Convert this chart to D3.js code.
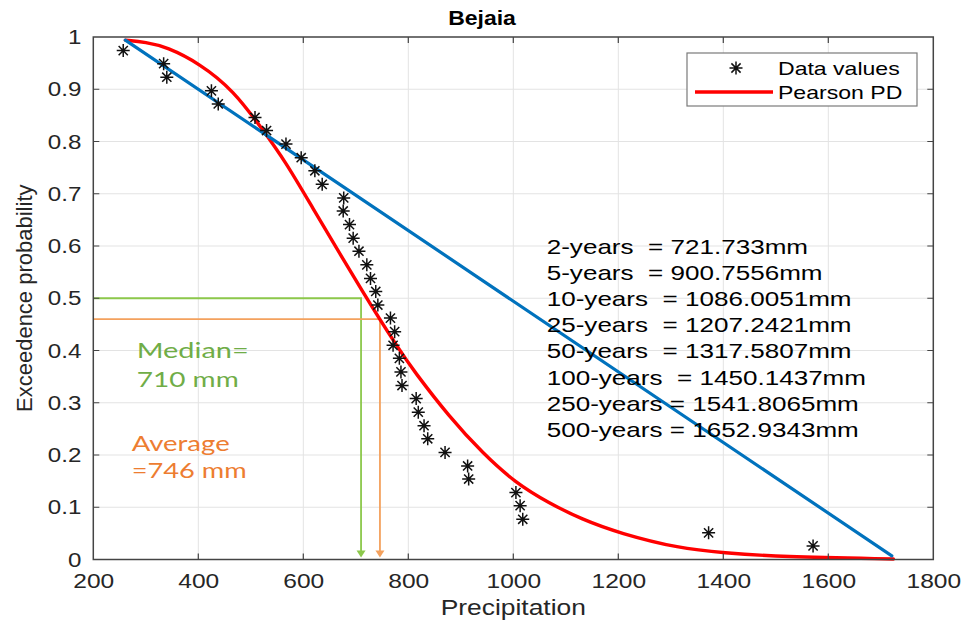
<!DOCTYPE html>
<html>
<head>
<meta charset="utf-8">
<script src="https://cdn.jsdelivr.net/npm/d3@7"></script>
<style>
  html, body { margin: 0; padding: 0; background: #fff; }
  svg { display: block; }
  text { white-space: pre; }
</style>
</head>
<body>
<div id="chart"></div>
<script>
// Annual precipitation at Bejaia: observed exceedance probabilities,
// fitted Pearson distribution and a straight-line fit.
const precip = [257, 334, 340, 425, 438, 508, 530, 567, 596, 622, 636, 677, 676,
  688, 695, 706, 721, 728, 738, 742, 766, 774, 771, 783, 786, 788, 815, 819,
  830, 837, 870, 913, 915, 1005, 1013, 1018, 1372, 1571];
const exceed = [0.974, 0.949, 0.923, 0.897, 0.872, 0.846, 0.821, 0.795, 0.769,
  0.744, 0.718, 0.692, 0.667, 0.641, 0.615, 0.590, 0.564, 0.538, 0.513, 0.487,
  0.462, 0.436, 0.410, 0.385, 0.359, 0.333, 0.308, 0.282, 0.256, 0.231, 0.205,
  0.179, 0.154, 0.128, 0.103, 0.077, 0.051, 0.026];

const pearsonX = [261, 300, 340, 403, 467, 524, 568, 606, 720, 783, 809, 878, 942,
  1005, 1068, 1130, 1203, 1317, 1400, 1508, 1724];
const pearsonP = [0.994, 0.990, 0.981, 0.949, 0.898, 0.821, 0.758, 0.693, 0.500, 0.401,
  0.363, 0.273, 0.203, 0.146, 0.108, 0.077, 0.050, 0.021, 0.013, 0.005, 0.001];

const fitX = [261, 1721];
const fitP = [0.994, 0.007];

const medianValue = 710, medianProb = 0.5;
const averageValue = 746, averageProb = 0.46;

const xTicks = [200, 400, 600, 800, 1000, 1200, 1400, 1600, 1800];
const yTicks = [0, 0.1, 0.2, 0.3, 0.4, 0.5, 0.6, 0.7, 0.8, 0.9, 1];
const yTickLabels = ["0", "0.1", "0.2", "0.3", "0.4", "0.5", "0.6", "0.7", "0.8", "0.9", "1"];

const returnLines = [
  "2-years  = 721.733mm",
  "5-years  = 900.7556mm",
  "10-years  = 1086.0051mm",
  "25-years  = 1207.2421mm",
  "50-years  = 1317.5807mm",
  "100-years  = 1450.1437mm",
  "250-years = 1541.8065mm",
  "500-years = 1652.9343mm"
];
const medianLines = ["Median=", "710 mm"];
const averageLines = ["Average", "=746 mm"];
const legendLabels = ["Data values", "Pearson PD"];

// ---------------------------------------------------------------------------
const W = 967, H = 628;
const plotL = 93.3, plotR = 933.3, plotT = 37, plotB = 559.5;
const sans = "'Liberation Sans', Arial, Helvetica, sans-serif";
const axisInk = "#262626";

const svg = d3.select("#chart").append("svg")
  .attr("width", W).attr("height", H)
  .attr("viewBox", `0 0 ${W} ${H}`);

const x = d3.scaleLinear().domain([200, 1800]).range([plotL, plotR]);
const y = d3.scaleLinear().domain([0, 1]).range([plotB, plotT]);

// horizontally widened text, scaled about its anchor point
function widen(sel, sx) {
  sel.each(function () {
    const t = d3.select(this);
    const tx = +t.attr("x") || 0, ty = +t.attr("y") || 0;
    t.attr("x", 0).attr("y", 0)
      .attr("transform", `translate(${tx},${ty}) scale(${sx},1)`);
  });
}

// grid
const grid = svg.append("g").attr("stroke", "#e3e3e3").attr("stroke-width", 1);
grid.selectAll("line.gx").data(xTicks.slice(1, -1)).join("line")
  .attr("x1", d => x(d)).attr("x2", d => x(d))
  .attr("y1", plotT).attr("y2", plotB);
grid.selectAll("line.gy").data(yTicks.slice(1, -1)).join("line")
  .attr("x1", plotL).attr("x2", plotR)
  .attr("y1", d => y(d)).attr("y2", d => y(d));

// median / average guide lines with arrows
function guide(value, prob, color) {
  const g = svg.append("g");
  g.append("path")
    .attr("d", `M${plotL},${y(prob)}H${x(value)}V${plotB - 7}`)
    .attr("fill", "none").attr("stroke", color).attr("stroke-width", 1.8);
  g.append("path")
    .attr("d", `M${x(value) - 4.5},${plotB - 9}L${x(value) + 4.5},${plotB - 9}L${x(value)},${plotB - 2}Z`)
    .attr("fill", color);
}
guide(medianValue, medianProb, "#8cc84b");
guide(averageValue, averageProb, "#f4a15d");

// curves
const pearson = pearsonX.map((v, i) => [v, pearsonP[i]]);
const fit = fitX.map((v, i) => [v, fitP[i]]);

svg.append("path").datum(pearson)
  .attr("d", d3.line().x(d => x(d[0])).y(d => y(d[1])).curve(d3.curveBasis))
  .attr("fill", "none").attr("stroke", "#ff0000").attr("stroke-width", 3.4)
  .attr("stroke-linecap", "round");
svg.append("path").datum(fit)
  .attr("d", d3.line().x(d => x(d[0])).y(d => y(d[1])))
  .attr("fill", "none").attr("stroke", "#0072bd").attr("stroke-width", 3.2)
  .attr("stroke-linecap", "round");

// asterisk marker
function star(r) {
  const a = r * Math.SQRT1_2;
  return `M${-r},0H${r}M0,${-r}V${r}M${-a},${-a}L${a},${a}M${-a},${a}L${a},${-a}`;
}
svg.append("g").selectAll("path").data(precip).join("path")
  .attr("transform", (d, i) => `translate(${x(d)},${y(exceed[i])})`)
  .attr("d", star(6.5))
  .attr("fill", "none").attr("stroke", "#111").attr("stroke-width", 1.5);

// axes frame and inward ticks
const frame = svg.append("g").attr("stroke", "#444").attr("fill", "none");
frame.append("rect").attr("x", plotL).attr("y", plotT)
  .attr("width", plotR - plotL).attr("height", plotB - plotT).attr("stroke-width", 1.5);
const tk = 6;
frame.selectAll("path.tx").data(xTicks.slice(1, -1)).join("path")
  .attr("d", d => `M${x(d)},${plotB}v${-tk}M${x(d)},${plotT}v${tk}`).attr("stroke-width", 1.2);
frame.selectAll("path.ty").data(yTicks.slice(1, -1)).join("path")
  .attr("d", d => `M${plotL},${y(d)}h${tk}M${plotR},${y(d)}h${-tk}`).attr("stroke-width", 1.2);

// tick labels through d3 axes
const xAxis = svg.append("g").attr("transform", `translate(0,${plotB})`)
  .call(d3.axisBottom(x).tickValues(xTicks).tickSize(0).tickPadding(14).tickFormat(d3.format("d")));
const yAxis = svg.append("g").attr("transform", `translate(${plotL},0)`)
  .call(d3.axisLeft(y).tickValues(yTicks).tickSize(0).tickPadding(12)
    .tickFormat((d, i) => yTickLabels[i]));
[xAxis, yAxis].forEach(a => {
  a.select(".domain").remove();
  a.selectAll("text").attr("font-family", sans).attr("font-size", 21).attr("fill", axisInk);
});
xAxis.selectAll("text").attr("transform", "scale(1.17,1)");
yAxis.selectAll("text").attr("x", -12 / 1.15).attr("transform", "scale(1.15,1)");

// title and axis labels
const title = svg.append("text").attr("x", 482).attr("y", 25)
  .attr("text-anchor", "middle").attr("font-family", sans)
  .attr("font-size", 20).attr("font-weight", "bold").attr("fill", "#000")
  .text("Bejaia");
widen(title, 1.15);

const xl = svg.append("text").attr("x", (plotL + plotR) / 2).attr("y", 615)
  .attr("text-anchor", "middle").attr("font-family", sans)
  .attr("font-size", 22).attr("fill", axisInk).text("Precipitation");
widen(xl, 1.2);

svg.append("text")
  .attr("transform", `translate(32,${(plotT + plotB) / 2}) rotate(-90)`)
  .attr("text-anchor", "middle").attr("font-family", sans)
  .attr("font-size", 22).attr("fill", axisInk).text("Exceedence probability");

// legend
const lg = svg.append("g");
lg.append("rect").attr("x", 687).attr("y", 53).attr("width", 230).attr("height", 53)
  .attr("fill", "#fff").attr("stroke", "#7a7a7a").attr("stroke-width", 1.2);
lg.append("path").attr("transform", "translate(736,68)").attr("d", star(6.5))
  .attr("fill", "none").attr("stroke", "#111").attr("stroke-width", 1.5);
lg.append("line").attr("x1", 695).attr("x2", 773).attr("y1", 92).attr("y2", 92)
  .attr("stroke", "#ff0000").attr("stroke-width", 3.4);
const lt = lg.selectAll("text").data(legendLabels).join("text")
  .attr("x", 778).attr("y", (d, i) => 75 + i * 24)
  .attr("font-family", sans).attr("font-size", 18.6).attr("fill", "#000")
  .text(d => d);
widen(lt, 1.24);

// return-period quantiles
const rp = svg.append("g").selectAll("text").data(returnLines).join("text")
  .attr("x", 546.7).attr("y", (d, i) => 254 + i * 26.1)
  .attr("font-family", sans).attr("font-size", 19.6).attr("fill", "#000")
  .text(d => d);
widen(rp, 1.33);

// median and average notes
const calibri = "Lato, 'Open Sans', sans-serif";
const notes = [
  { lines: medianLines, x: 136.7, y: [358.3, 386.7], w: [112, 102], color: "#70ad47" },
  { lines: averageLines, x: 131.7, y: [450.7, 478], w: [98, 115], color: "#ed7d31" }
];
notes.forEach(n => {
  n.lines.forEach((s, i) => {
    svg.append("text").attr("x", n.x).attr("y", n.y[i])
      .attr("font-family", calibri).attr("font-size", 22).attr("fill", n.color)
      .attr("textLength", n.w[i]).attr("lengthAdjust", "spacingAndGlyphs")
      .text(s);
  });
});
</script>
</body>
</html>
